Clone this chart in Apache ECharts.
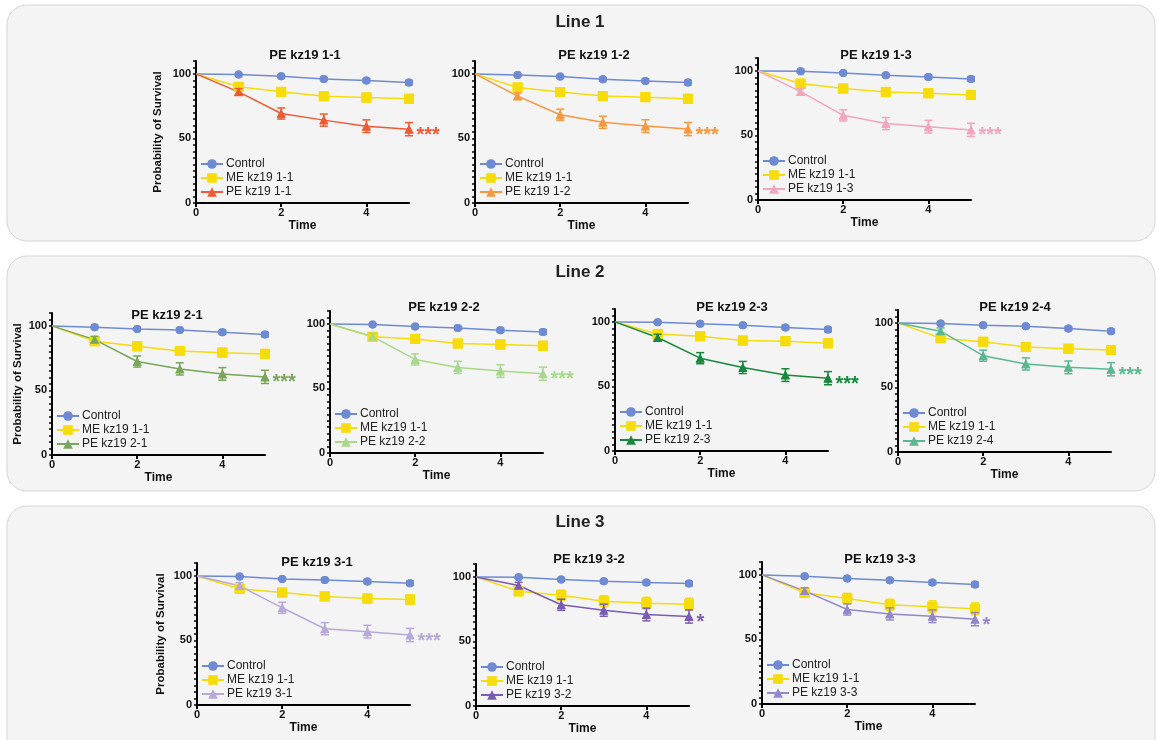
<!DOCTYPE html>
<html>
<head>
<meta charset="utf-8">
<title>Survival curves</title>
<script src="https://cdn.jsdelivr.net/npm/echarts@6/dist/echarts.min.js"></script>
<style>
  html, body { margin: 0; padding: 0; background: #fff; }
  #main { width: 1157px; height: 740px; }
</style>
</head>
<body>
<div id="main"></div>
<script>
const times = [0, 1, 2, 3, 4, 5]
const xTicks = [0, 2, 4]
const yTicks = [0, 50, 100]

// Line 1
const control11 = [100, 99.5, 98.2, 96.1, 94.8, 93.3]
const me11 = [100, 90, 86.1, 82.7, 81.7, 80.7]
const pe11 = [100, 86.1, 69.3, 64.2, 59.5, 57.2]
const control12 = [100, 99.2, 97.9, 95.9, 94.6, 93.3]
const me12 = [100, 89.5, 85.9, 82.8, 82, 80.7]
const pe12 = [100, 82.8, 68.4, 62.5, 59.6, 57.3]
const control13 = [100, 99.7, 98.4, 96.6, 95.3, 93.8]
const me13 = [100, 90.2, 86.3, 83.7, 82.7, 81.4]
const pe13 = [100, 84, 65.6, 59.2, 56.8, 54.3]

// Line 2
const control21 = [100, 99, 97.7, 96.9, 95.1, 93.3]
const me21 = [100, 88.1, 84.2, 80.6, 79.3, 78.3]
const pe21 = [100, 89.4, 72.4, 66.7, 62.8, 60.5]
const control22 = [100, 99.5, 97.9, 96.9, 95.1, 93.8]
const me22 = [100, 90, 88.4, 84.8, 84.1, 83]
const pe22 = [100, 90.2, 72.5, 66.3, 63.5, 61.4]
const control23 = [100, 99.7, 98.5, 97.4, 95.6, 94.1]
const me23 = [100, 90.7, 88.9, 85.6, 85.1, 83.5]
const pe23 = [100, 87.9, 71.9, 64.7, 58.8, 56.4]
const control24 = [100, 99.5, 98.2, 97.4, 95.6, 93.6]
const me24 = [100, 88.2, 85.4, 81.3, 80, 79]
const pe24 = [100, 93.6, 74.6, 68.2, 65.6, 64.1]

// Line 3
const control31 = [100, 99.5, 97.7, 96.9, 95.6, 94.3]
const me31 = [100, 90, 87.1, 84.1, 82.5, 81.7]
const pe31 = [100, 92.3, 75.3, 59.1, 56.8, 54.2]
const control32 = [100, 99.7, 97.9, 96.6, 95.6, 94.8]
const me32 = [100, 88.9, 85.8, 81.2, 79.6, 78.9]
const pe32 = [100, 93.3, 78.4, 74.2, 70.9, 69.3]
const control33 = [100, 99, 97.2, 95.9, 94.1, 92.5]
const me33 = [100, 86.1, 81.7, 76.8, 75.3, 73.7]
const pe33 = [100, 87.6, 73.2, 69.8, 68, 65.7]

// error bars (SEM)
const errControl = [0, 0.6, 0.9, 1.2, 1.4, 1.7]
const errMe = [0, 2.2, 2.8, 3, 3.2, 3.4]
const errMeWide = [0, 3.5, 4, 4.3, 4.6, 4.6]
const errPe = [0, 2.5, 4.3, 4.7, 4.9, 5.1]

const font = '"Liberation Sans", Arial, Helvetica, sans-serif'
const controlColor = '#6e8ad2'
const meColor = '#f5dc0a'
const plotW = 213
const plotH = 142

const panels = [
  { name: 'PE kz19 1-1', control: control11, me: me11, pe: pe11, meErr: errMe, color: '#ee5a32', stars: '***', left: 196, top: 61, titleX: 305, titleY: 55, yName: 32 },
  { name: 'PE kz19 1-2', control: control12, me: me12, pe: pe12, meErr: errMe, color: '#f7983f', stars: '***', left: 475, top: 61, titleX: 594, titleY: 55 },
  { name: 'PE kz19 1-3', control: control13, me: me13, pe: pe13, meErr: errMe, color: '#f3a5bd', stars: '***', left: 758, top: 58, titleX: 876, titleY: 55 },
  { name: 'PE kz19 2-1', control: control21, me: me21, pe: pe21, meErr: errMe, color: '#78a65a', stars: '***', left: 52, top: 313, titleX: 167, titleY: 315, yName: 28 },
  { name: 'PE kz19 2-2', control: control22, me: me22, pe: pe22, meErr: errMe, color: '#a8d98b', stars: '***', left: 330, top: 311, titleX: 444, titleY: 307 },
  { name: 'PE kz19 2-3', control: control23, me: me23, pe: pe23, meErr: errMe, color: '#17883c', stars: '***', left: 615, top: 309, titleX: 732, titleY: 307 },
  { name: 'PE kz19 2-4', control: control24, me: me24, pe: pe24, meErr: errMe, color: '#5bb792', stars: '***', left: 898, top: 310, titleX: 1015, titleY: 307 },
  { name: 'PE kz19 3-1', control: control31, me: me31, pe: pe31, meErr: errMe, color: '#b8a9d8', stars: '***', left: 197, top: 563, titleX: 317, titleY: 562, yName: 30 },
  { name: 'PE kz19 3-2', control: control32, me: me32, pe: pe32, meErr: errMeWide, color: '#7a5cb3', stars: '*', left: 476, top: 564, titleX: 589, titleY: 559 },
  { name: 'PE kz19 3-3', control: control33, me: me33, pe: pe33, meErr: errMeWide, color: '#9587cb', stars: '*', left: 762, top: 562, titleX: 880, titleY: 559 }
]

const boxes = [
  { title: 'Line 1', y: 5, h: 236, titleY: 22 },
  { title: 'Line 2', y: 256, h: 235, titleY: 272 },
  { title: 'Line 3', y: 506, h: 260, titleY: 522 }
]

function lineData(vals) {
  return times.map((t, k) => (k === 0 ? { value: [t, vals[k]], symbol: 'none' } : [t, vals[k]]))
}

function markerShape(kind, cx, cy, color) {
  if (kind === 'circle') {
    return { type: 'circle', shape: { cx, cy, r: 4 }, style: { fill: color } }
  }
  if (kind === 'rect') {
    return { type: 'rect', shape: { x: cx - 5, y: cy - 5, width: 10, height: 10 }, style: { fill: color } }
  }
  return {
    type: 'polygon',
    shape: { points: [[cx, cy - 4.5], [cx + 4.5, cy + 4], [cx - 4.5, cy + 4]] },
    style: { fill: color }
  }
}

// error bars + markers drawn unclipped on top of the lines
function errSeries(i, vals, errs, color, kind) {
  return {
    type: 'custom',
    name: 'err',
    xAxisIndex: i,
    yAxisIndex: i,
    silent: true,
    clip: false,
    z: 6,
    data: times.slice(1).map((t, k) => [t, vals[k + 1] - errs[k + 1], vals[k + 1] + errs[k + 1], vals[k + 1]]),
    encode: { x: 0, y: [1, 2] },
    renderItem(params, api) {
      const lo = api.coord([api.value(0), api.value(1)])
      const hi = api.coord([api.value(0), api.value(2)])
      const mid = api.coord([api.value(0), api.value(3)])
      const w = 4
      const style = { stroke: color, lineWidth: 1.5 }
      return {
        type: 'group',
        children: [
          { type: 'line', shape: { x1: lo[0], y1: lo[1], x2: hi[0], y2: hi[1] }, style },
          { type: 'line', shape: { x1: lo[0] - w, y1: lo[1], x2: lo[0] + w, y2: lo[1] }, style },
          { type: 'line', shape: { x1: hi[0] - w, y1: hi[1], x2: hi[0] + w, y2: hi[1] }, style },
          markerShape(kind, mid[0], mid[1], color)
        ]
      }
    }
  }
}

const grid = []
const xAxis = []
const yAxis = []
const legend = []
const series = []
const graphic = []

boxes.forEach(b => {
  graphic.push({
    type: 'rect',
    z: -10,
    silent: true,
    shape: { x: 7, y: b.y, width: 1148, height: b.h, r: 20 },
    style: { fill: '#f4f4f4', stroke: '#d6d6d6', lineWidth: 1 }
  })
  graphic.push({
    type: 'text',
    silent: true,
    x: 580,
    y: b.titleY,
    style: { text: b.title, font: 'bold 17px ' + font, fill: '#222', textAlign: 'center', textVerticalAlign: 'middle' }
  })
})

panels.forEach((p, i) => {
  grid.push({ left: p.left, top: p.top, width: plotW, height: plotH, containLabel: false, outerBoundsMode: 'none' })
  graphic.push({
    type: 'text',
    silent: true,
    x: p.titleX,
    y: p.titleY,
    style: { text: p.name, font: 'bold 13px ' + font, fill: '#111', textAlign: 'center', textVerticalAlign: 'middle' }
  })
  xAxis.push({
    gridIndex: i,
    type: 'value',
    min: 0,
    max: 5,
    interval: 1,
    name: 'Time',
    nameLocation: 'middle',
    nameGap: 17,
    nameTextStyle: { fontFamily: font, fontWeight: 'bold', fontSize: 12, color: '#111' },
    axisLine: { lineStyle: { color: '#000', width: 2 } },
    axisTick: { customValues: xTicks, length: 4, lineStyle: { color: '#000', width: 2 } },
    axisLabel: { customValues: xTicks, fontFamily: font, fontWeight: 'bold', fontSize: 11, color: '#111', margin: 4 },
    splitLine: { show: false }
  })
  yAxis.push({
    gridIndex: i,
    type: 'value',
    min: 0,
    max: 110,
    interval: 5,
    name: p.yName ? 'Probability of Survival' : '',
    nameLocation: 'middle',
    nameRotate: 90,
    nameGap: p.yName || 30,
    nameTextStyle: { fontFamily: font, fontWeight: 'bold', fontSize: 11.5, color: '#111' },
    axisLine: { show: true, lineStyle: { color: '#000', width: 2 } },
    axisTick: { show: true, length: 3, lineStyle: { color: '#000', width: 1.5 } },
    axisLabel: { customValues: yTicks, fontFamily: font, fontWeight: 'bold', fontSize: 11, color: '#111', margin: 5 },
    splitLine: { show: false }
  })
  legend.push({
    data: ['Control', 'ME kz19 1-1', p.name],
    orient: 'vertical',
    left: p.left + 4,
    top: p.top + plotH - 45,
    padding: 0,
    itemWidth: 22,
    itemHeight: 12,
    itemGap: 2,
    selectedMode: false,
    textStyle: { fontFamily: font, fontSize: 12, color: '#222', padding: [0, 0, 0, -2] }
  })

  series.push({
    type: 'line', name: 'Control', xAxisIndex: i, yAxisIndex: i, clip: false,
    data: lineData(p.control), symbol: 'circle', symbolSize: 8,
    color: controlColor, lineStyle: { width: 1.5 }, z: 3, animation: false
  })
  series.push({
    type: 'line', name: 'ME kz19 1-1', xAxisIndex: i, yAxisIndex: i, clip: false,
    data: lineData(p.me), symbol: 'rect', symbolSize: 10,
    color: meColor, lineStyle: { width: 1.5 }, z: 4, animation: false
  })
  const peData = lineData(p.pe)
  peData[5] = {
    value: [5, p.pe[5]],
    label: {
      show: true, position: 'right', distance: 3, offset: [0, 6],
      formatter: p.stars, color: p.color, fontFamily: font, fontSize: 20, fontWeight: 'bold'
    }
  }
  series.push({
    type: 'line', name: p.name, xAxisIndex: i, yAxisIndex: i, clip: false,
    data: peData, symbol: 'triangle', symbolSize: 9,
    color: p.color, lineStyle: { width: 1.5 }, z: 5, animation: false
  })

  series.push(errSeries(i, p.control, errControl, controlColor, 'circle'))
  series.push(errSeries(i, p.me, p.meErr, meColor, 'rect'))
  series.push(errSeries(i, p.pe, errPe, p.color, 'triangle'))
})

const chart = echarts.init(document.getElementById('main'))
chart.setOption({
  animation: false,
  backgroundColor: '#fff',
  textStyle: { fontFamily: font },
  grid,
  xAxis,
  yAxis,
  legend,
  series,
  graphic
})
</script>
</body>
</html>
